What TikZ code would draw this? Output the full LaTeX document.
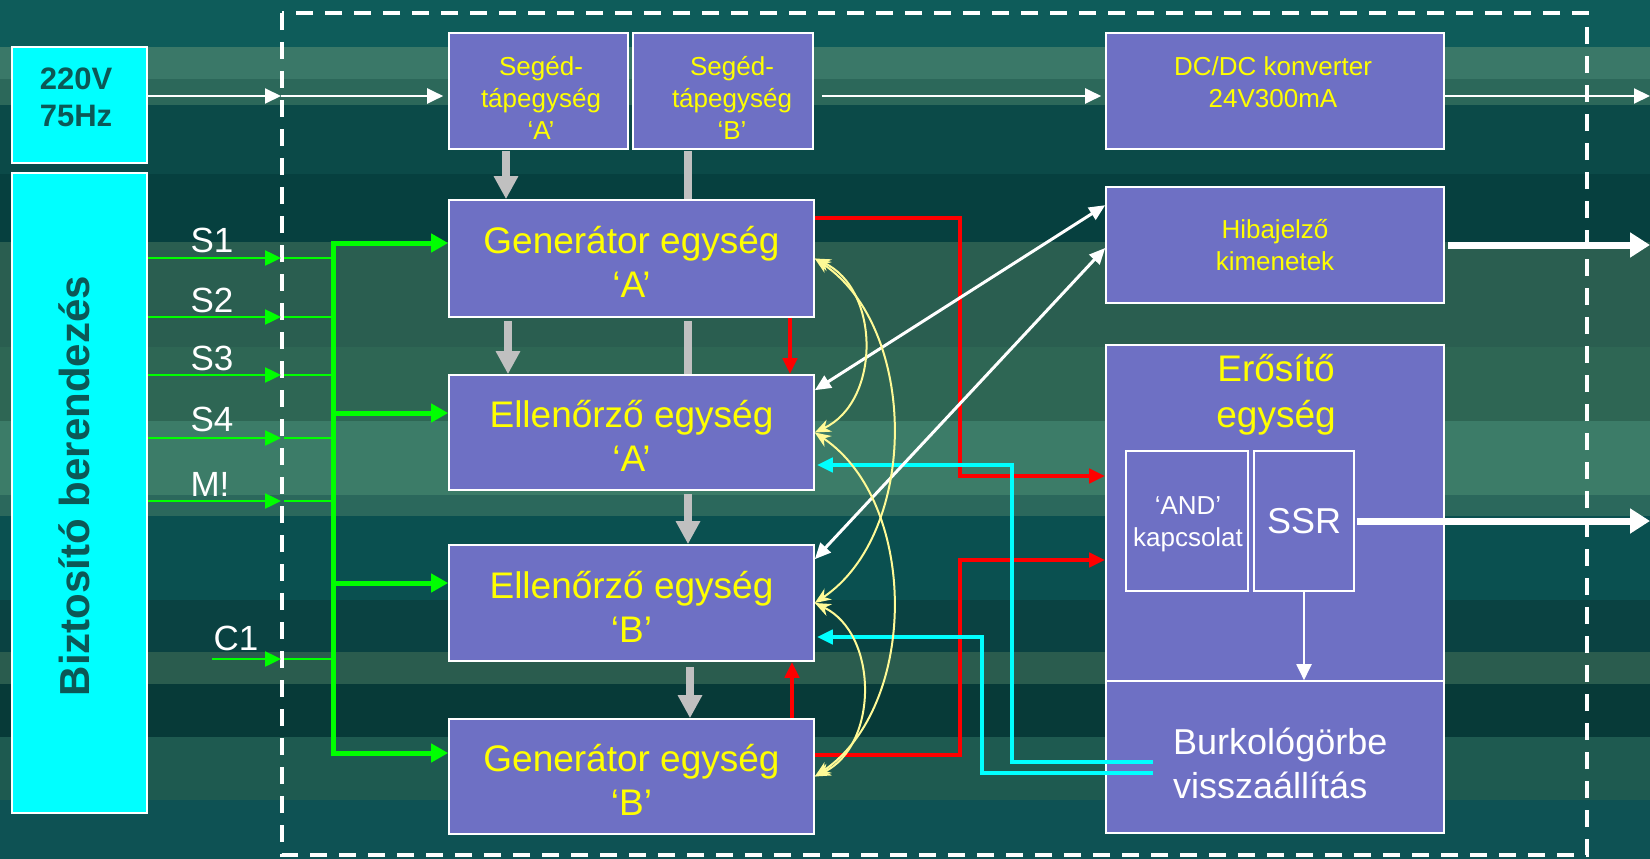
\documentclass[tikz,border=0pt]{standalone}
\usepackage{fontspec}
\setmainfont{Liberation Sans}
\usetikzlibrary{arrows.meta,calc}
\definecolor{boxfill}{RGB}{110,112,196}
\definecolor{ytext}{RGB}{255,255,0}
\definecolor{darkt}{RGB}{12,88,86}
\definecolor{gline}{RGB}{0,255,0}
\definecolor{cline}{RGB}{0,255,255}
\definecolor{rline}{RGB}{255,0,0}
\definecolor{gcol}{RGB}{192,192,192}
\definecolor{ycol}{RGB}{255,250,150}
\definecolor{bga}{RGB}{14,92,90}
\definecolor{bgb}{RGB}{58,120,104}
\definecolor{bgc}{RGB}{44,104,90}
\definecolor{bgd}{RGB}{11,74,72}
\definecolor{bge}{RGB}{6,64,63}
\definecolor{bgf}{RGB}{42,94,80}
\definecolor{bgg}{RGB}{46,102,84}
\definecolor{bgh}{RGB}{60,124,104}
\definecolor{bgi}{RGB}{43,104,92}
\definecolor{bgj}{RGB}{10,80,80}
\definecolor{bgk}{RGB}{10,66,66}
\definecolor{bgl}{RGB}{42,92,78}
\definecolor{bgm}{RGB}{7,58,56}
\definecolor{bgn}{RGB}{30,90,80}
\definecolor{bgo}{RGB}{14,82,84}
\begin{document}
\begin{tikzpicture}[x=1pt,y=-1pt,
  blk/.style={draw=white, line width=1.6pt, fill=boxfill, inner sep=0pt, align=center, text=ytext},
  txt/.style={inner sep=0pt, align=center, text=ytext},
  mainfont/.style={font=\fontsize{37}{44}\selectfont},
  smallfont/.style={font=\fontsize{26}{32}\selectfont},
  cbox/.style={draw=white, line width=1.6pt, fill=cline, inner sep=0pt},
  ctxt/.style={inner sep=0pt, align=center, text=darkt, font=\fontsize{31}{37}\selectfont\bfseries},
  lbl/.style={text=white, font=\fontsize{35}{40}\selectfont, inner sep=0pt},
  wthin/.style={draw=white, line width=2pt, -{Triangle[length=16pt,width=15pt]}},
  wthick/.style={draw=white, line width=7pt, -{Triangle[length=20pt,width=24pt]}},
  wdouble/.style={draw=white, line width=3pt, {Triangle[length=16pt,width=14pt]}-{Triangle[length=16pt,width=14pt]}},
  garrowin/.style={draw=gline, line width=2.5pt, -{Triangle[length=16pt,width=15pt]}},
  gthin/.style={draw=gline, line width=1.5pt},
  garrow/.style={draw=gline, line width=5pt, -{Triangle[length=17pt,width=18pt]}},
  grayarrow/.style={draw=gcol, line width=8pt, -{Triangle[length=23pt,width=23pt]}},
  grayline/.style={draw=gcol, line width=8pt},
  redarrow/.style={draw=rline, line width=4pt, -{Triangle[length=16pt,width=14pt]}},
  cyanarrow/.style={draw=cline, line width=4pt, -{Triangle[length=16pt,width=14pt]}},
  ycurveS/.style={draw=ycol, line width=2pt, {Stealth[length=16pt,width=13pt]}-{Stealth[length=16pt,width=13pt]}}
]
% background
\fill[bga] (0,0) rectangle (1650,859);
\useasboundingbox (0,0) rectangle (1650,859);
\fill[bga] (0,0) rectangle (1650,47);
\fill[bgb] (0,47) rectangle (1650,79);
\fill[bgc] (0,79) rectangle (1650,105);
\fill[bgd] (0,105) rectangle (1650,174);
\fill[bge] (0,174) rectangle (1650,242);
\fill[bgf] (0,242) rectangle (1650,347);
\fill[bgg] (0,347) rectangle (1650,421);
\fill[bgh] (0,421) rectangle (1650,495);
\fill[bgi] (0,495) rectangle (1650,516);
\fill[bgj] (0,516) rectangle (1650,600);
\fill[bgk] (0,600) rectangle (1650,652);
\fill[bgl] (0,652) rectangle (1650,684);
\fill[bgm] (0,684) rectangle (1650,737);
\fill[bgn] (0,737) rectangle (1650,800);
\fill[bgo] (0,800) rectangle (1650,859);

% dashed frame
\draw[white, line width=4pt, dash pattern=on 17pt off 12pt] (282,13) rectangle (1587,855);

% left boxes
\node[cbox, minimum width=135pt, minimum height=116pt] (v220) at (79.5,105) {};
\node[ctxt] (v220txt) at (76,97.5) {220V\\75Hz};
\node[cbox, minimum width=135pt, minimum height=640pt] (biz) at (79.5,493) {};
\node[rotate=90, text=darkt, font=\fontsize{42}{48}\selectfont\bfseries, inner sep=0pt] (biztxt) at (74,486) {Biztosító berendezés};

% main boxes
\node[blk, minimum width=179pt, minimum height=116pt] (segA) at (538.5,91) {};
\node[txt, smallfont] (segAtxt) at (541,98) {Segéd-\\tápegység\\‘A’};
\node[blk, minimum width=180pt, minimum height=116pt] (segB) at (723,91) {};
\node[txt, smallfont] (segBtxt) at (732,98) {Segéd-\\tápegység\\‘B’};
\node[blk, minimum width=365pt, minimum height=117pt] (genA) at (631.5,258.5) {};
\node[txt, mainfont] (genAtxt) at (631.5,262) {Generátor egység\\‘A’};
\node[blk, minimum width=365pt, minimum height=115pt] (ellA) at (631.5,432.5) {};
\node[txt, mainfont] (ellAtxt) at (631.5,436) {Ellenőrző egység\\‘A’};
\node[blk, minimum width=365pt, minimum height=116pt] (ellB) at (631.5,603) {};
\node[txt, mainfont] (ellBtxt) at (631.5,607) {Ellenőrző egység\\‘B’};
\node[blk, minimum width=365pt, minimum height=115pt] (genB) at (631.5,776.5) {};
\node[txt, mainfont] (genBtxt) at (631.5,780) {Generátor egység\\‘B’};

\node[blk, minimum width=338pt, minimum height=116pt] (dcdc) at (1275,91) {};
\node[txt, smallfont] (dcdctxt) at (1273,82) {DC/DC konverter\\24V300mA};
\node[blk, smallfont, minimum width=338pt, minimum height=116pt] (hiba) at (1275,245) {Hibajelző\\kimenetek};

\node[blk, minimum width=338pt, minimum height=488pt] (erosito) at (1275,589) {};
\node[blk, minimum width=338pt, minimum height=152pt] (burk) at (1275,757) {};
\node[txt, font=\fontsize{37}{46}\selectfont] (erotxt) at (1276,395) {Erősítő\\egység};
\node[text=white, font=\fontsize{36}{44}\selectfont, align=left, anchor=west, inner sep=0pt] (burktxt) at (1173,763) {Burkológörbe\\visszaállítás};
\node[blk, minimum width=122pt, minimum height=140pt] (andb) at (1187,521) {};
\node[txt, text=white, font=\fontsize{26}{32}\selectfont] (andtxt) at (1188,524.5) {‘AND’\\kapcsolat};
\node[blk, text=white, font=\fontsize{36}{40}\selectfont, minimum width=100pt, minimum height=140pt] (ssr) at (1304,521) {SSR};

% power arrows
\coordinate (p1) at (281,96);
\draw[wthin] ([yshift=9pt]v220.east) -- (p1);
\draw[wthin] (p1) -- ([xshift=-5pt,yshift=-5pt]segA.west);
\draw[wthin] ([xshift=8pt,yshift=-5pt]segB.east) -- ([xshift=-4pt,yshift=-5pt]dcdc.west);
\coordinate (e1) at (1650,96);
\draw[wthin] ([yshift=-5pt]dcdc.east) -- (e1);
\coordinate (e2) at (1650,245);
\draw[wthick] ([xshift=3pt]hiba.east) -- (e2);
\coordinate (e3) at (1650,521);
\draw[wthick] ([xshift=2pt]ssr.east) -- (e3);
\draw[wthin] (ssr.south) -- (ssr.south |- burk.north);

% gray arrows
\coordinate (gx1) at (506,0);
\coordinate (gx2) at (688,0);
\coordinate (gx3) at (508,0);
\coordinate (gx4) at (690,0);
\draw[grayarrow] ([yshift=-1pt]segA.south -| gx1) -- (genA.north -| gx1);
\draw[grayline] ([yshift=-1pt]segB.south -| gx2) -- (genA.north -| gx2);
\draw[grayarrow] ([yshift=-3pt]genA.south -| gx3) -- (ellA.north -| gx3);
\draw[grayline] ([yshift=-3pt]genA.south -| gx2) -- (ellA.north -| gx2);
\draw[grayarrow] ([yshift=-3pt]ellA.south -| gx2) -- (ellB.north -| gx2);
\draw[grayarrow] ([yshift=-5pt]ellB.south -| gx4) -- (genB.north -| gx4);

% green inputs
\coordinate (d1) at (281,258);
\coordinate (d2) at (281,317);
\coordinate (d3) at (281,375);
\coordinate (d4) at (281,438);
\coordinate (d5) at (281,501);
\coordinate (d6) at (281,659);
\coordinate (c1s) at (212,659);
\coordinate (bt) at (333,243);
\coordinate (bb) at (333,753);
\coordinate (bea) at (333,413);
\coordinate (beb) at (333,583);
\foreach \d in {d1,d2,d3,d4,d5}{
  \draw[garrowin] (biz.east |- \d) -- (\d);
  \draw[gthin] ([xshift=3pt]\d) -- (bt |- \d);
}
\draw[garrowin] (c1s) -- (d6);
\draw[gthin] ([xshift=3pt]d6) -- (bt |- d6);
\draw[garrow] (bb) -- (bt) -- (genA.west |- bt);
\draw[garrow] (bea) -- (ellA.west |- bea);
\draw[garrow] (beb) -- (ellB.west |- beb);
\draw[garrow] ([xshift=-2.5pt]bb) -- (genB.west |- bb);

\node[lbl] (ls1) at (212,240) {S1};
\node[lbl] (ls2) at (212,300) {S2};
\node[lbl] (ls3) at (212,358) {S3};
\node[lbl] (ls4) at (212,419) {S4};
\node[lbl] (lm) at (210,484) {M!};
\node[lbl] (lc1) at (236,638) {C1};

% red
\coordinate (rA) at (960,218);
\coordinate (rB) at (960,755);
\coordinate (rAy) at (0,476);
\coordinate (rBy) at (0,560);
\draw[redarrow] (genA.east |- rA) -- (rA) |- (erosito.west |- rAy);
\draw[redarrow] (genB.east |- rB) -- (rB) |- (erosito.west |- rBy);
\coordinate (rx1) at (790,0);
\coordinate (rx2) at (792,0);
\draw[redarrow] (genA.south -| rx1) -- (ellA.north -| rx1);
\draw[redarrow] (genB.north -| rx2) -- (ellB.south -| rx2);

% cyan
\coordinate (cb1) at (1153,762);
\coordinate (cu1) at (1012,465);
\coordinate (cb2) at (1153,773);
\coordinate (cu2) at (982,637);
\draw[cyanarrow] (cb1) -| (cu1) -- ([xshift=2pt]ellA.east |- cu1);
\draw[cyanarrow] (cb2) -| (cu2) -- ([xshift=2pt]ellB.east |- cu2);

% white double arrows
\draw[wdouble] ([yshift=-19pt]hiba.north west) -- ([yshift=-16pt]ellA.north east);
\draw[wdouble] ([yshift=-3pt]hiba.west) -- ([yshift=-15pt]ellB.north east);

% yellow curves
\draw[ycurveS] (genA.east) .. controls +(66,31) and +(66,-31) .. (ellA.east);
\draw[ycurveS] (genA.east) .. controls +(104,70) and +(104,-70) .. (ellB.east);
\draw[ycurveS] (ellA.east) .. controls +(104,70) and +(104,-70) .. (genB.east);
\draw[ycurveS] (ellB.east) .. controls +(64,31) and +(64,-31) .. (genB.east);
\end{tikzpicture}
\end{document}
